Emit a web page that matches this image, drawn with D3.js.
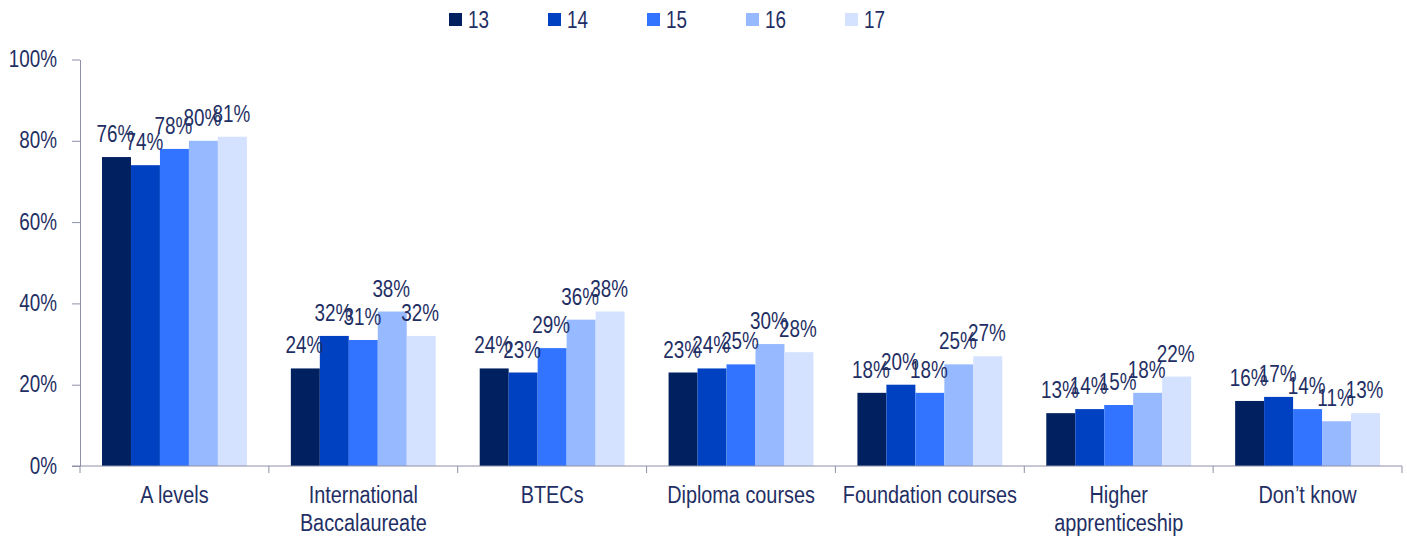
<!DOCTYPE html>
<html>
<head>
<meta charset="utf-8">
<script src="https://cdn.jsdelivr.net/npm/d3@7"></script>
<style>
  body { margin: 0; background: #fff; }
  text { font-family: "Liberation Sans", Arial, sans-serif; fill: #1F2F64; }
</style>
</head>
<body>
<div id="chart"></div>
<script>
// data
var categories = ["A levels", "International Baccalaureate", "BTECs", "Diploma courses",
  "Foundation courses", "Higher apprenticeship", "Don\u2019t know"];
var catLines = [["A levels"], ["International", "Baccalaureate"], ["BTECs"], ["Diploma courses"],
  ["Foundation courses"], ["Higher", "apprenticeship"], ["Don\u2019t know"]];
var series = ["13", "14", "15", "16", "17"];
var v13 = [76, 24, 24, 23, 18, 13, 16];
var v14 = [74, 32, 23, 24, 20, 14, 17];
var v15 = [78, 31, 29, 25, 18, 15, 14];
var v16 = [80, 38, 36, 30, 25, 18, 11];
var v17 = [81, 32, 38, 28, 27, 22, 13];
var values = [v13, v14, v15, v16, v17];
var colors = ["#00205F", "#0041C2", "#3274FF", "#97B9FF", "#D4E1FF"];
var yTicks = [0, 20, 40, 60, 80, 100];

var W = 1407, H = 538;
var mLeft = 80, mRight = 1402, mTop = 59.5, mBottom = 466;
var SX = 0.81; // the source font is narrow and tall

var svg = d3.select('#chart').append('svg')
  .attr('width', W).attr('height', H);

// narrow text helper
function label(parent, x, y, str, size, anchor) {
  return parent.append('text')
    .attr('transform', 'translate(' + x + ',' + y + ') scale(' + SX + ',1)')
    .attr('text-anchor', anchor || 'start')
    .style('font-size', size + 'px')
    .text(str);
}

var x0 = d3.scaleBand().domain(categories).range([mLeft, mRight]).paddingInner(0).paddingOuter(0);
var x1 = d3.scaleBand().domain(series).range([22, x0.bandwidth() - 22]);
var y = d3.scaleLinear().domain([0, 100]).range([mBottom, mTop]);

// bars
categories.forEach(function(c, ci) {
  var g = svg.append('g').attr('transform', 'translate(' + x0(c) + ',0)');
  series.forEach(function(s, si) {
    var v = values[si][ci];
    g.append('rect')
      .attr('x', x1(s)).attr('y', y(v))
      .attr('width', x1.bandwidth()).attr('height', mBottom - y(v))
      .attr('fill', colors[si]);
  });
  series.forEach(function(s, si) {
    var v = values[si][ci];
    label(g, x1(s) + x1.bandwidth() / 2 - 1, y(v) - 15, v + '%', 23.3, 'middle');
  });
});

// y axis
var yAxis = svg.append('g').attr('transform', 'translate(' + mLeft + ',0)')
  .call(d3.axisLeft(y).tickValues(yTicks).tickFormat(function(d) { return d + '%'; }).tickSize(8).tickSizeOuter(0));
yAxis.select('.domain').attr('stroke', '#8E90A6');
yAxis.selectAll('.tick line').attr('stroke', '#8E90A6');
yAxis.selectAll('.tick text')
  .attr('x', 0).attr('dy', null)
  .attr('transform', 'translate(-23,7) scale(' + SX + ',1)')
  .style('font-size', '23.3px')
  .style('font-family', '"Liberation Sans", Arial, sans-serif').attr('fill', '#1F2F64');

// x axis
svg.append('line').attr('x1', mLeft - 8).attr('x2', mRight).attr('y1', mBottom).attr('y2', mBottom)
  .attr('stroke', '#8E90A6');
var bounds = categories.map(function(c) { return x0(c); }).concat([mRight]);
svg.selectAll('.xt').data(bounds).enter().append('line')
  .attr('x1', function(d) { return d; }).attr('x2', function(d) { return d; })
  .attr('y1', mBottom).attr('y2', mBottom + 7).attr('stroke', '#8E90A6');

categories.forEach(function(c, ci) {
  catLines[ci].forEach(function(l, li) {
    label(svg, x0(c) + x0.bandwidth() / 2, 503 + li * 28, l, 24.5, 'middle');
  });
});

// legend
var legend = svg.append('g');
series.forEach(function(s, si) {
  var lx = 449 + si * 99;
  legend.append('rect').attr('x', lx).attr('y', 13).attr('width', 13).attr('height', 13).attr('fill', colors[si]);
  label(legend, lx + 19, 27.5, s, 23.3);
});
</script>
</body>
</html>
